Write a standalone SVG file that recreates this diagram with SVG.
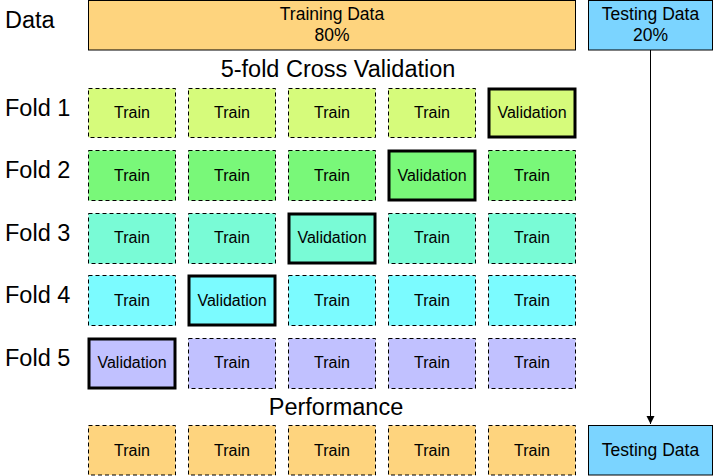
<svg xmlns="http://www.w3.org/2000/svg" width="714" height="476" viewBox="0 0 714 476">
<style>
text{font-family:"Liberation Sans",Arial,sans-serif;fill:#000}
.lbl{font-size:23.5px}
.cell{font-size:16px;text-anchor:middle}
.big{font-size:17.5px;text-anchor:middle}
.tr{stroke:#000;stroke-width:1;stroke-dasharray:4 3}
.va{stroke:#000;stroke-width:3}
.f1{fill:#D6FB7B}.f2{fill:#79F879}.f3{fill:#79FBD6}.f4{fill:#7BFBFF}.f5{fill:#C1C1FF}.fp{fill:#FED47E}
</style>
<defs>
<marker id="ah" markerWidth="10" markerHeight="10" refX="8" refY="4" orient="auto" markerUnits="userSpaceOnUse">
<path d="M0,0 L8,4 L0,8 Z" fill="#000"/>
</marker>
</defs>
<g id="labels">
<text class="lbl" x="5" y="28">Data</text>
<text class="lbl" x="5" y="116">Fold 1</text>
<text class="lbl" x="5" y="178">Fold 2</text>
<text class="lbl" x="5" y="241">Fold 3</text>
<text class="lbl" x="5" y="303">Fold 4</text>
<text class="lbl" x="5" y="366">Fold 5</text>
<text class="lbl" x="338" y="77" text-anchor="middle">5-fold Cross Validation</text>
<text class="lbl" x="336" y="415" text-anchor="middle">Performance</text>
</g>
<g id="training-data">
<rect x="88.5" y="0.5" width="487" height="49.5" fill="#FED47E" stroke="#000"/>
<text class="big" x="332" y="20">Training Data</text>
<text class="big" x="332" y="41">80%</text>
</g>
<g id="testing-data">
<rect x="588.5" y="0.5" width="124" height="49.5" fill="#7BD4FF" stroke="#000"/>
<text class="big" x="650.5" y="20">Testing Data</text>
<text class="big" x="650.5" y="41">20%</text>
</g>
<g id="fold1">
<rect class="tr f1" x="88.5" y="88.5" width="87" height="49"/><text class="cell" x="132" y="118">Train</text>
<rect class="tr f1" x="188.5" y="88.5" width="87" height="49"/><text class="cell" x="232" y="118">Train</text>
<rect class="tr f1" x="288.5" y="88.5" width="87" height="49"/><text class="cell" x="332" y="118">Train</text>
<rect class="tr f1" x="388.5" y="88.5" width="87" height="49"/><text class="cell" x="432" y="118">Train</text>
<rect class="va f1" x="489" y="89" width="86" height="48"/><text class="cell" x="532" y="118">Validation</text>
</g>
<g id="fold2">
<rect class="tr f2" x="88.5" y="150.5" width="87" height="50"/><text class="cell" x="132" y="181">Train</text>
<rect class="tr f2" x="188.5" y="150.5" width="87" height="50"/><text class="cell" x="232" y="181">Train</text>
<rect class="tr f2" x="288.5" y="150.5" width="87" height="50"/><text class="cell" x="332" y="181">Train</text>
<rect class="va f2" x="389" y="151" width="86" height="49"/><text class="cell" x="432" y="181">Validation</text>
<rect class="tr f2" x="488.5" y="150.5" width="87" height="50"/><text class="cell" x="532" y="181">Train</text>
</g>
<g id="fold3">
<rect class="tr f3" x="88.5" y="213.5" width="87" height="50"/><text class="cell" x="132" y="243">Train</text>
<rect class="tr f3" x="188.5" y="213.5" width="87" height="50"/><text class="cell" x="232" y="243">Train</text>
<rect class="va f3" x="289" y="214" width="86" height="49"/><text class="cell" x="332" y="243">Validation</text>
<rect class="tr f3" x="388.5" y="213.5" width="87" height="50"/><text class="cell" x="432" y="243">Train</text>
<rect class="tr f3" x="488.5" y="213.5" width="87" height="50"/><text class="cell" x="532" y="243">Train</text>
</g>
<g id="fold4">
<rect class="tr f4" x="88.5" y="275.5" width="87" height="50"/><text class="cell" x="132" y="306">Train</text>
<rect class="va f4" x="189" y="276" width="86" height="49"/><text class="cell" x="232" y="306">Validation</text>
<rect class="tr f4" x="288.5" y="275.5" width="87" height="50"/><text class="cell" x="332" y="306">Train</text>
<rect class="tr f4" x="388.5" y="275.5" width="87" height="50"/><text class="cell" x="432" y="306">Train</text>
<rect class="tr f4" x="488.5" y="275.5" width="87" height="50"/><text class="cell" x="532" y="306">Train</text>
</g>
<g id="fold5">
<rect class="va f5" x="89" y="339" width="86" height="49"/><text class="cell" x="132" y="368">Validation</text>
<rect class="tr f5" x="188.5" y="338.5" width="87" height="50"/><text class="cell" x="232" y="368">Train</text>
<rect class="tr f5" x="288.5" y="338.5" width="87" height="50"/><text class="cell" x="332" y="368">Train</text>
<rect class="tr f5" x="388.5" y="338.5" width="87" height="50"/><text class="cell" x="432" y="368">Train</text>
<rect class="tr f5" x="488.5" y="338.5" width="87" height="50"/><text class="cell" x="532" y="368">Train</text>
</g>
<g id="performance">
<rect class="tr fp" x="88.5" y="425.5" width="87" height="49.5"/><text class="cell" x="132" y="456">Train</text>
<rect class="tr fp" x="188.5" y="425.5" width="87" height="49.5"/><text class="cell" x="232" y="456">Train</text>
<rect class="tr fp" x="288.5" y="425.5" width="87" height="49.5"/><text class="cell" x="332" y="456">Train</text>
<rect class="tr fp" x="388.5" y="425.5" width="87" height="49.5"/><text class="cell" x="432" y="456">Train</text>
<rect class="tr fp" x="488.5" y="425.5" width="87" height="49.5"/><text class="cell" x="532" y="456">Train</text>
</g>
<g id="testing-final">
<rect x="588.5" y="425.5" width="124" height="49.5" fill="#7BD4FF" stroke="#000"/>
<text class="big" x="650.5" y="456">Testing Data</text>
</g>
<g id="connectors">
<line x1="650.5" y1="50" x2="650.5" y2="424" stroke="#000" stroke-width="1" marker-end="url(#ah)"/>
</g>
</svg>
